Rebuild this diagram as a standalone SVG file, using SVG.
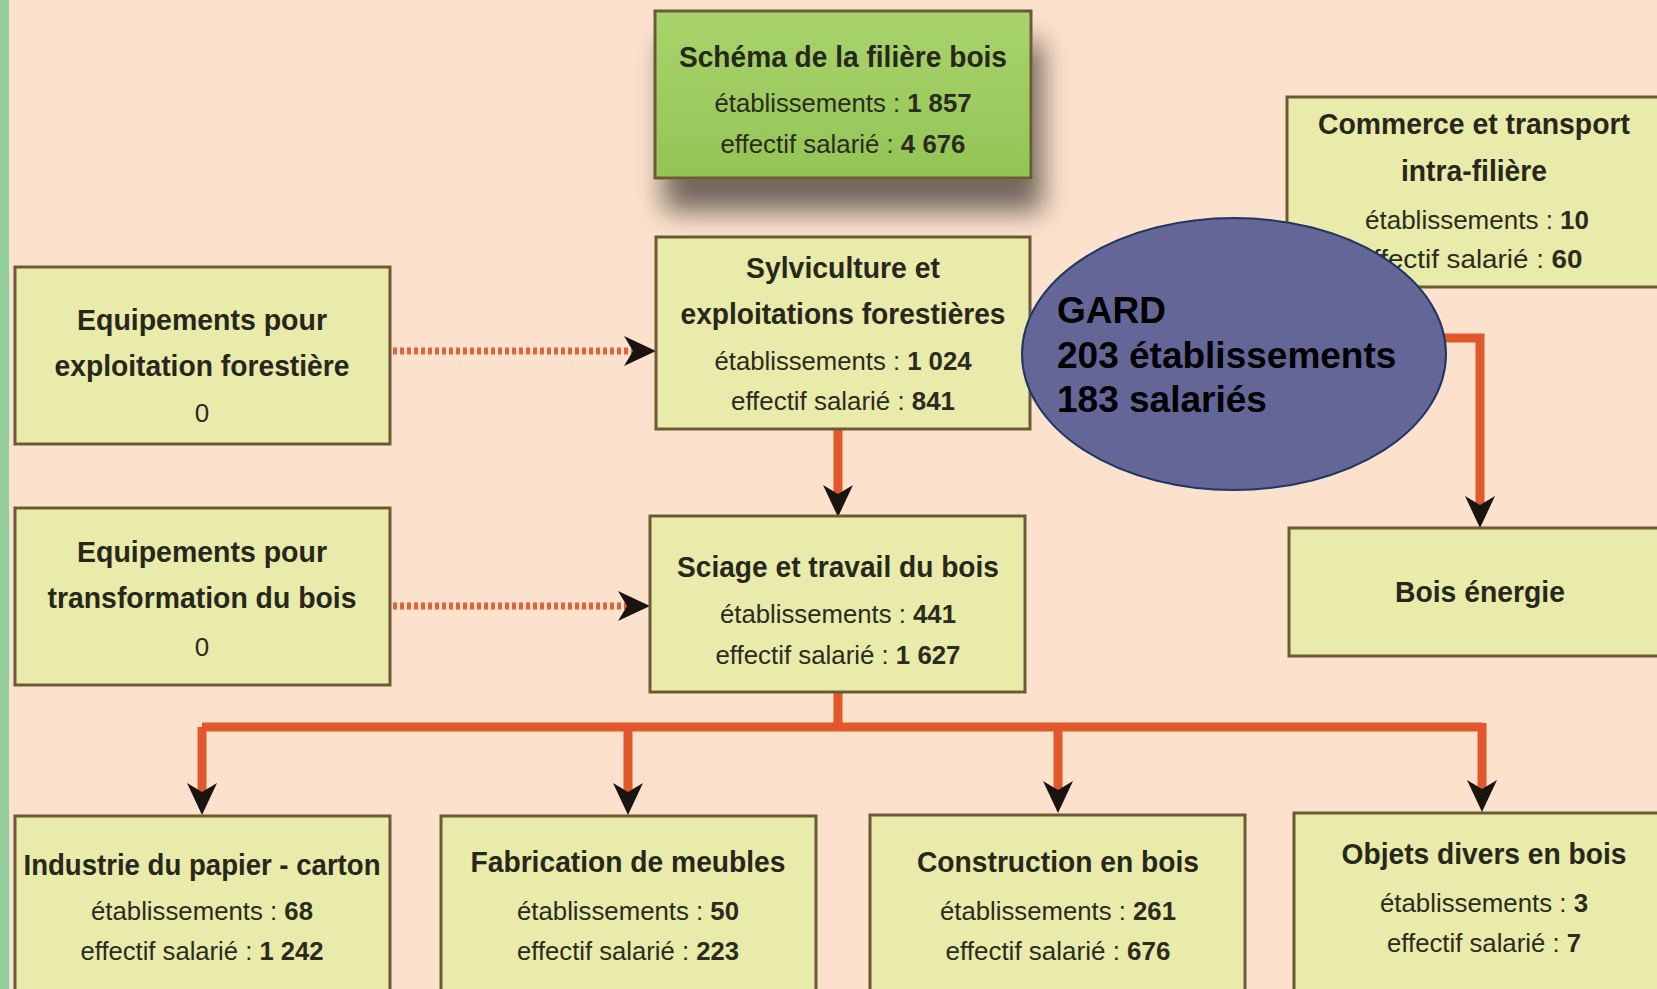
<svg xmlns="http://www.w3.org/2000/svg" width="1657" height="989" viewBox="0 0 1657 989">
<style>
.box{fill:#e8eba9;stroke:#6b5a35;stroke-width:3}
.t{font-family:"Liberation Sans",Arial,sans-serif;font-size:29px;font-weight:bold;fill:#27271c;text-anchor:middle}
.b{font-family:"Liberation Sans",Arial,sans-serif;font-size:26px;fill:#2b2b20;text-anchor:middle}
.n{font-weight:bold}
.con{fill:none;stroke:#e2572b;stroke-width:9}
.dot{fill:none;stroke:#e0623e;stroke-width:7;stroke-dasharray:4 3}
.g{font-family:"Liberation Sans",Arial,sans-serif;font-size:37px;font-weight:bold;fill:#000}
</style>
<defs>
<marker id="arr" markerUnits="userSpaceOnUse" markerWidth="32" markerHeight="30" viewBox="0 0 32 30" refX="9" refY="15" orient="auto">
<path d="M0,0 L32,15 L0,30 L9,15 z" fill="#1a1410"/>
</marker>
<linearGradient id="gr" x1="0" y1="0" x2="0" y2="1">
<stop offset="0" stop-color="#a9d46d"/>
<stop offset="1" stop-color="#93c455"/>
</linearGradient>
<filter id="sh" x="-20%" y="-20%" width="150%" height="180%">
<feGaussianBlur in="SourceAlpha" stdDeviation="14"/>
<feOffset dx="10" dy="32" result="o"/>
<feComponentTransfer><feFuncA type="linear" slope="0.55"/></feComponentTransfer>
<feMerge><feMergeNode/><feMergeNode in="SourceGraphic"/></feMerge>
</filter>
</defs>
<rect x="0" y="0" width="1657" height="989" fill="#fce2cc"/>
<rect x="0" y="0" width="9" height="989" fill="#93cf9d"/>

<g id="connectors">
<path class="dot" d="M393,351 H633" marker-end="url(#arr)"/>
<path class="dot" d="M393,606 H627" marker-end="url(#arr)"/>
<path class="con" d="M838,429 V494" marker-end="url(#arr)"/>
<path class="con" d="M838,692 V727"/>
<path class="con" d="M202,727 H1482"/>
<path class="con" d="M202,727 V792" marker-end="url(#arr)"/>
<path class="con" d="M628,727 V792" marker-end="url(#arr)"/>
<path class="con" d="M1058,727 V790" marker-end="url(#arr)"/>
<path class="con" d="M1482,723 V789" marker-end="url(#arr)"/>
<path class="con" d="M1300,338 H1480 V505" marker-end="url(#arr)"/>
</g>

<g id="schema">
<rect x="655" y="11" width="376" height="167" fill="url(#gr)" stroke="#6b5a35" stroke-width="3" filter="url(#sh)"/>
<text class="t" x="843" y="67" textLength="328" lengthAdjust="spacingAndGlyphs">Schéma de la filière bois</text>
<text class="b" x="843" y="112" textLength="257" lengthAdjust="spacingAndGlyphs">établissements : <tspan class="n">1 857</tspan></text>
<text class="b" x="843" y="153" textLength="245" lengthAdjust="spacingAndGlyphs">effectif salarié : <tspan class="n">4 676</tspan></text>
</g>

<g id="sylviculture">
<rect class="box" x="656" y="237" width="374" height="192"/>
<text class="t" x="843" y="278" textLength="194" lengthAdjust="spacingAndGlyphs">Sylviculture et</text>
<text class="t" x="843" y="324" textLength="325" lengthAdjust="spacingAndGlyphs">exploitations forestières</text>
<text class="b" x="843" y="370" textLength="257" lengthAdjust="spacingAndGlyphs">établissements : <tspan class="n">1 024</tspan></text>
<text class="b" x="843" y="410" textLength="224" lengthAdjust="spacingAndGlyphs">effectif salarié : <tspan class="n">841</tspan></text>
</g>

<g id="equip-exploitation">
<rect class="box" x="15" y="267" width="375" height="177"/>
<text class="t" x="202" y="330" textLength="250" lengthAdjust="spacingAndGlyphs">Equipements pour</text>
<text class="t" x="202" y="376" textLength="295" lengthAdjust="spacingAndGlyphs">exploitation forestière</text>
<text class="b" x="202" y="422">0</text>
</g>

<g id="equip-transformation">
<rect class="box" x="15" y="508" width="375" height="177"/>
<text class="t" x="202" y="562" textLength="250" lengthAdjust="spacingAndGlyphs">Equipements pour</text>
<text class="t" x="202" y="608" textLength="309" lengthAdjust="spacingAndGlyphs">transformation du bois</text>
<text class="b" x="202" y="656">0</text>
</g>

<g id="sciage">
<rect class="box" x="650" y="516" width="375" height="176"/>
<text class="t" x="838" y="577" textLength="322" lengthAdjust="spacingAndGlyphs">Sciage et travail du bois</text>
<text class="b" x="838" y="623" textLength="236" lengthAdjust="spacingAndGlyphs">établissements : <tspan class="n">441</tspan></text>
<text class="b" x="838" y="664" textLength="245" lengthAdjust="spacingAndGlyphs">effectif salarié : <tspan class="n">1 627</tspan></text>
</g>

<g id="commerce">
<rect class="box" x="1287" y="97" width="380" height="190"/>
<text class="t" x="1474" y="134" textLength="312" lengthAdjust="spacingAndGlyphs">Commerce et transport</text>
<text class="t" x="1474" y="181" textLength="146" lengthAdjust="spacingAndGlyphs">intra-filière</text>
<text class="b" x="1477" y="229" textLength="224" lengthAdjust="spacingAndGlyphs">établissements : <tspan class="n">10</tspan></text>
<text class="b" x="1470" y="268" textLength="225" lengthAdjust="spacingAndGlyphs">effectif salarié : <tspan class="n">60</tspan></text>
</g>

<g id="bois-energie">
<rect class="box" x="1289" y="528" width="378" height="128"/>
<text class="t" x="1480" y="602" textLength="170" lengthAdjust="spacingAndGlyphs">Bois énergie</text>
</g>

<g id="industrie">
<rect class="box" x="15" y="816" width="375" height="185"/>
<text class="t" x="202" y="875" textLength="357" lengthAdjust="spacingAndGlyphs">Industrie du papier - carton</text>
<text class="b" x="202" y="920" textLength="222" lengthAdjust="spacingAndGlyphs">établissements : <tspan class="n">68</tspan></text>
<text class="b" x="202" y="960" textLength="243" lengthAdjust="spacingAndGlyphs">effectif salarié : <tspan class="n">1 242</tspan></text>
</g>

<g id="fabrication">
<rect class="box" x="441" y="816" width="375" height="185"/>
<text class="t" x="628" y="872" textLength="315" lengthAdjust="spacingAndGlyphs">Fabrication de meubles</text>
<text class="b" x="628" y="920" textLength="222" lengthAdjust="spacingAndGlyphs">établissements : <tspan class="n">50</tspan></text>
<text class="b" x="628" y="960" textLength="222" lengthAdjust="spacingAndGlyphs">effectif salarié : <tspan class="n">223</tspan></text>
</g>

<g id="construction">
<rect class="box" x="870" y="815" width="375" height="186"/>
<text class="t" x="1058" y="872" textLength="282" lengthAdjust="spacingAndGlyphs">Construction en bois</text>
<text class="b" x="1058" y="920" textLength="236" lengthAdjust="spacingAndGlyphs">établissements : <tspan class="n">261</tspan></text>
<text class="b" x="1058" y="960" textLength="225" lengthAdjust="spacingAndGlyphs">effectif salarié : <tspan class="n">676</tspan></text>
</g>

<g id="objets">
<rect class="box" x="1294" y="813" width="375" height="188"/>
<text class="t" x="1484" y="864" textLength="285" lengthAdjust="spacingAndGlyphs">Objets divers en bois</text>
<text class="b" x="1484" y="912" textLength="208" lengthAdjust="spacingAndGlyphs">établissements : <tspan class="n">3</tspan></text>
<text class="b" x="1484" y="952" textLength="194" lengthAdjust="spacingAndGlyphs">effectif salarié : <tspan class="n">7</tspan></text>
</g>

<g id="gard">
<ellipse cx="1234" cy="354" rx="212" ry="136" fill="#646698" stroke="#1f3763" stroke-width="2"/>
<text class="g" x="1057" y="323">GARD</text>
<text class="g" x="1057" y="368">203 établissements</text>
<text class="g" x="1057" y="412">183 salariés</text>
</g>
</svg>
